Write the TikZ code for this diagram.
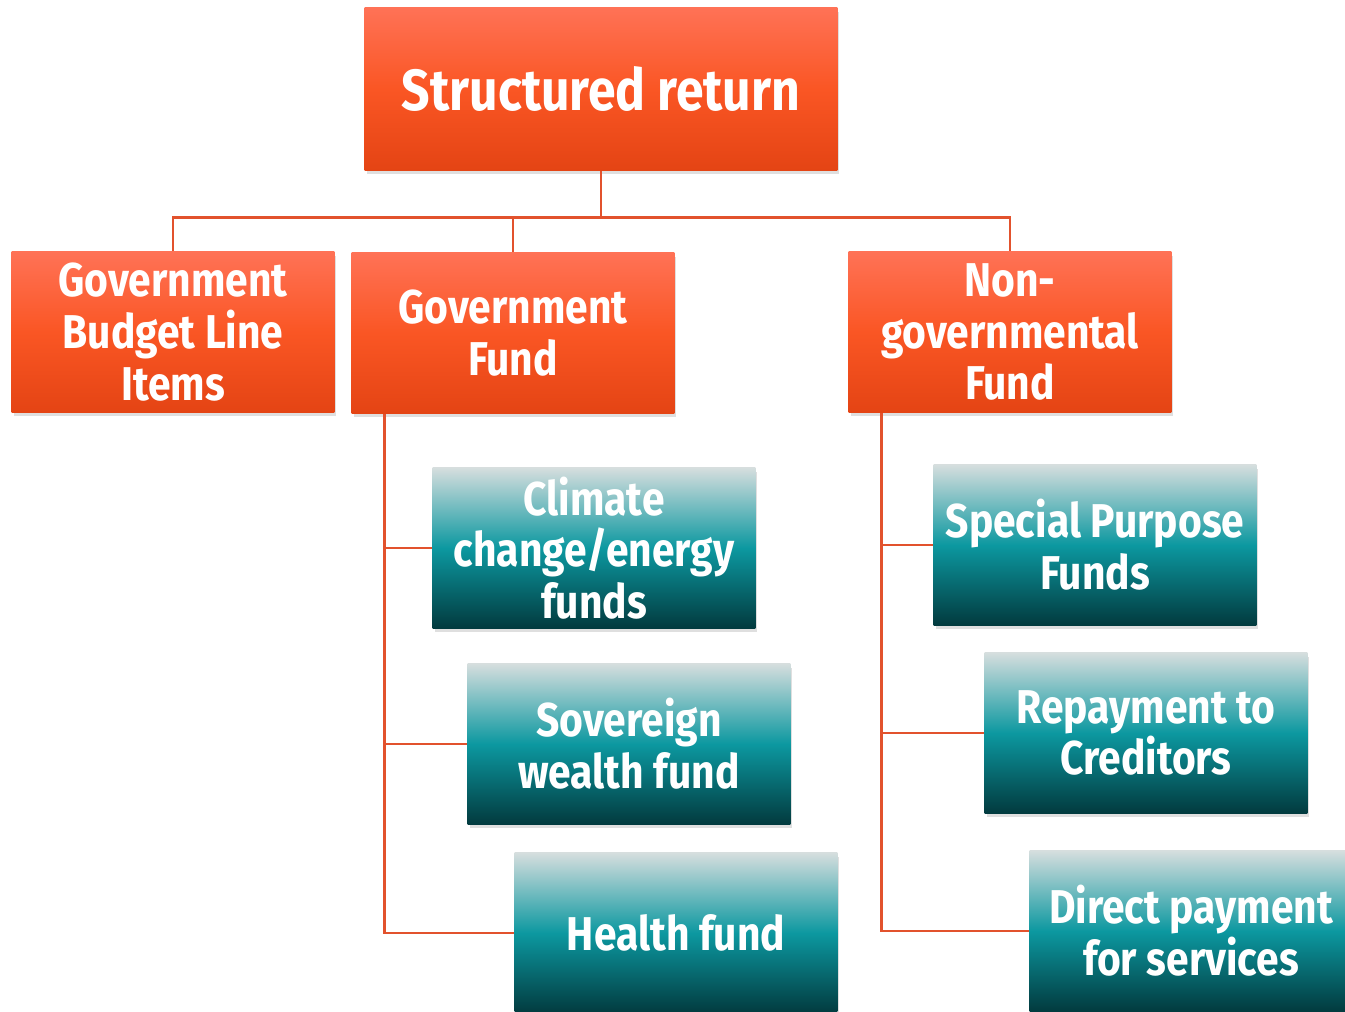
\documentclass[tikz,border=0pt]{standalone}
\usepackage{fontspec}
\setmainfont{Fira Sans}[FakeStretch=0.86]
\usepackage{xcolor}
\usetikzlibrary{positioning,calc,shadows}
\definecolor{OrangeTop}{RGB}{255,114,86}
\definecolor{OrangeMid}{RGB}{250,86,36}
\definecolor{OrangeBot}{RGB}{228,68,20}
\definecolor{TealTop}{RGB}{214,222,222}
\definecolor{TealMid}{RGB}{12,152,160}
\definecolor{TealBot}{RGB}{2,58,62}
\definecolor{LinkCol}{RGB}{226,82,45}

\begin{document}
\begin{tikzpicture}[
x=0.02cm,y=-0.02cm,
BoxBase/.style={rectangle,text=white,align=center,inner sep=0pt,
  font=\bfseries\fontsize{27}{29.5}\selectfont,
  minimum width=6.46cm,minimum height=3.22cm,
  drop shadow={shadow xshift=0.04cm,shadow yshift=-0.08cm,opacity=0.25}},
OrangeBox/.style={BoxBase,top color=OrangeTop,bottom color=OrangeBot,middle color=OrangeMid},
TealBox/.style={BoxBase,top color=TealTop,bottom color=TealBot,middle color=TealMid},
Links/.style={draw=LinkCol,line width=1.6pt}
]
\useasboundingbox (0,0) rectangle (1345,1011);
\clip (0,0) rectangle (1345,1011);

% top level
\node[OrangeBox,minimum width=9.46cm,minimum height=3.26cm,
  font=\bfseries\fontsize{33}{38}\selectfont] (SR) at (601,89) {Structured return};

% second level
\node[OrangeBox] (GBLI) at (173,332) {Government\\Budget Line\\Items};
\node[OrangeBox] (GF) at (513,333) {Government\\Fund};
\node[OrangeBox] (NGF) at (1010,332) {Non-\\governmental\\Fund};

% government fund children
\node[TealBox] (CCEF) at (594,548) {Climate\\change/energy\\funds};
\node[TealBox] (SWF) at (629,744) {Sovereign\\wealth fund};
\node[TealBox] (HF) at (676,933) {Health fund};

% non-governmental fund children
\node[TealBox] (SPF) at (1095,545) {Special Purpose\\Funds};
\node[TealBox] (RC) at (1146,733) {Repayment to\\Creditors};
\node[TealBox] (DPS) at (1191,931) {Direct payment\\for services};

% connectors
\draw[Links] (SR.south) -- ++(0,47) coordinate (Bus);
\draw[Links] (GBLI.north) |- (Bus) -| (NGF.north);
\draw[Links] (GF.north) |- (Bus);

\coordinate (GFa) at ($(GF.south west)+(33,0)$);
\coordinate (NGFa) at ($(NGF.south west)+(33,0)$);
\draw[Links] (GFa) |- (CCEF.west);
\draw[Links] (GFa) |- (SWF.west);
\draw[Links] (GFa) |- (HF.west);
\draw[Links] (NGFa) |- (SPF.west);
\draw[Links] (NGFa) |- (RC.west);
\draw[Links] (NGFa) |- (DPS.west);

\end{tikzpicture}
\end{document}
